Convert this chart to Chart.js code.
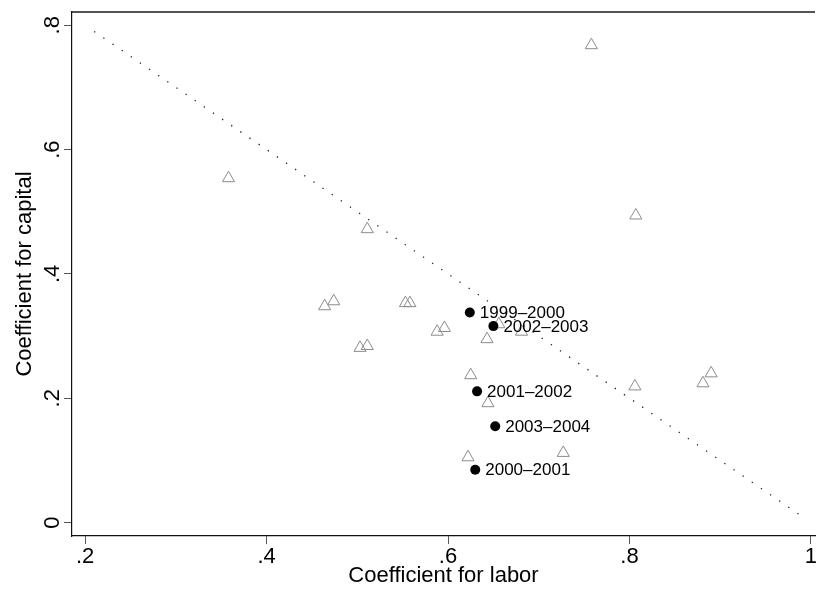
<!DOCTYPE html>
<html>
<head>
<meta charset="utf-8">
<script src="https://cdn.jsdelivr.net/npm/chart.js@4"></script>
<style>
  html, body { margin: 0; padding: 0; background: #fff; overflow: hidden; }
  canvas { display: block; }
</style>
</head>
<body>
<canvas id="chart" width="823" height="589"></canvas>
<script>
// industry estimates (hollow triangles)
const industryLabor = [0.358, 0.511, 0.464, 0.474, 0.553, 0.558, 0.588, 0.596, 0.503, 0.511, 0.656,
  0.643, 0.681, 0.625, 0.644, 0.622, 0.727, 0.758, 0.807, 0.806, 0.881, 0.890];
const industryCapital = [0.554, 0.472, 0.348, 0.356, 0.353, 0.353, 0.307, 0.313, 0.281, 0.284, 0.319,
  0.295, 0.307, 0.237, 0.192, 0.105, 0.112, 0.768, 0.494, 0.219, 0.224, 0.240];

// yearly estimates (filled circles, labelled)
const yearLabels = ["1999\u20132000", "2002\u20132003", "2001\u20132002", "2003\u20132004", "2000\u20132001"];
const yearLabor = [0.624, 0.650, 0.632, 0.652, 0.630];
const yearCapital = [0.338, 0.316, 0.211, 0.155, 0.085];

// constant returns line: labor + capital = 1
const crsLabor = [0.21, 0.99];
const crsCapital = [0.79, 0.01];

const xTicks = [0.2, 0.4, 0.6, 0.8, 1];
const xTickLabels = [".2", ".4", ".6", ".8", "1"];
const yTicks = [0, 0.2, 0.4, 0.6, 0.8];
const yTickLabels = ["0", ".2", ".4", ".6", ".8"];

const FONT = "'Liberation Sans', Arial, Helvetica, sans-serif";

const toPoints = (xs, ys) => xs.map((x, i) => ({ x: x, y: ys[i] }));

// top frame line + point labels
const framePlugin = {
  id: "frame",
  beforeDatasetsDraw(chart) {
    const { ctx, chartArea } = chart;
    ctx.save();
    ctx.strokeStyle = "#1a1a1a";
    ctx.lineWidth = 1.3;
    ctx.beginPath();
    ctx.moveTo(chartArea.left, chartArea.top);
    ctx.lineTo(chartArea.right, chartArea.top);
    ctx.stroke();
    ctx.restore();
  },
  afterDatasetsDraw(chart) {
    const { ctx } = chart;
    const meta = chart.getDatasetMeta(0);
    ctx.save();
    ctx.fillStyle = "#000";
    ctx.font = "17px " + FONT;
    ctx.textAlign = "left";
    ctx.textBaseline = "middle";
    meta.data.forEach((pt, i) => {
      ctx.fillText(yearLabels[i], pt.x + 10, pt.y + 1);
    });
    ctx.restore();
  }
};

const ctx = document.getElementById("chart").getContext("2d");

const chart = new Chart(ctx, {
  type: "scatter",
  data: {
    datasets: [
      {
        label: "years",
        data: toPoints(yearLabor, yearCapital),
        pointStyle: "circle",
        pointRadius: 5,
        backgroundColor: "#000",
        borderColor: "#000",
        borderWidth: 0
      },
      {
        label: "industries",
        data: toPoints(industryLabor, industryCapital),
        pointStyle: "triangle",
        pointRadius: 7,
        backgroundColor: "rgba(0,0,0,0)",
        borderColor: "#8c8c8c",
        borderWidth: 1
      },
      {
        label: "crs",
        type: "line",
        data: toPoints(crsLabor, crsCapital),
        showLine: true,
        pointRadius: 0,
        borderColor: "#222",
        borderWidth: 1.3,
        borderDash: [1.3, 9.77],
        fill: false
      }
    ]
  },
  options: {
    responsive: false,
    animation: false,
    devicePixelRatio: 1,
    layout: { padding: { top: 12, left: 0, right: 0, bottom: 0 } },
    plugins: {
      legend: { display: false },
      tooltip: { enabled: false }
    },
    scales: {
      x: {
        type: "linear",
        min: 0.1855,
        max: 1.0045,
        afterBuildTicks: (scale) => { scale.ticks = xTicks.map(v => ({ value: v })); },
        afterFit: (scale) => {
          scale.height = 53;
          scale.paddingLeft = 0;
          scale.paddingRight = 0;
        },
        ticks: {
          callback: (v, i) => xTickLabels[i],
          color: "#000",
          padding: 0,
          maxRotation: 0,
          autoSkip: false,
          font: { family: FONT, size: 22 }
        },
        grid: {
          drawOnChartArea: false,
          drawTicks: true,
          tickLength: 8,
          tickColor: "#555",
          lineWidth: 1
        },
        border: { display: true, color: "#111", width: 1.2 },
        title: {
          display: true,
          text: "Coefficient for labor",
          color: "#000",
          font: { family: FONT, size: 22 },
          padding: { top: 0, bottom: 0 }
        }
      },
      y: {
        type: "linear",
        min: -0.0217,
        max: 0.8214,
        afterBuildTicks: (scale) => { scale.ticks = yTicks.map(v => ({ value: v })); },
        afterFit: (scale) => {
          scale.width = 72;
          scale.paddingTop = 0;
          scale.paddingBottom = 0;
        },
        ticks: {
          callback: (v, i) => yTickLabels[i],
          color: "#000",
          padding: 2,
          minRotation: 90,
          maxRotation: 90,
          crossAlign: "center",
          autoSkip: false,
          font: { family: FONT, size: 22 }
        },
        grid: {
          drawOnChartArea: false,
          drawTicks: true,
          tickLength: 8,
          tickColor: "#555",
          lineWidth: 1
        },
        border: { display: true, color: "#111", width: 1.2 },
        title: {
          display: true,
          text: "Coefficient for capital",
          color: "#000",
          font: { family: FONT, size: 22 },
          padding: { top: 12, bottom: 0 }
        }
      }
    }
  },
  plugins: [framePlugin]
});
</script>
</body>
</html>
